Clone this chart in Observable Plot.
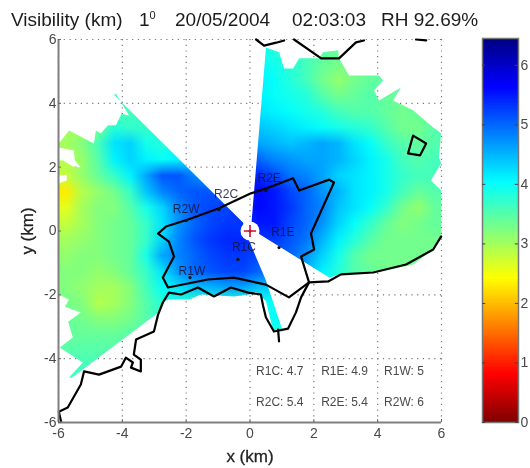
<!DOCTYPE html>
<html><head><meta charset="utf-8">
<script src="https://cdn.jsdelivr.net/npm/d3@7"></script>
<script src="https://cdn.jsdelivr.net/npm/@observablehq/plot@0.6"></script>
<style>
html,body{margin:0;padding:0;background:#fff;width:530px;height:468px;overflow:hidden}
#page{position:relative;width:530px;height:468px;font-family:"Liberation Sans",Arial,sans-serif}
#page svg{position:absolute;top:0;background:transparent;filter:blur(.35px)}
.t{position:absolute;top:9px;font-size:19px;color:#1c1c1c;white-space:pre;line-height:22px;filter:blur(.3px)}
.t sup{font-size:11px;line-height:0;vertical-align:7px}
</style></head><body><div id="page"></div>
<script>
// Visibility (km), rows from y=5.75 down to y=-5.75, columns x=-5.75 .. 5.75, 0.5 km cells
const visibilityRows = [
[3.7,3.7,3.7,3.7,3.7,3.7,3.7,3.7,3.7,3.9,3.9,4.0,4.0,3.8,3.7,3.6,3.5,3.4,3.4,3.4,3.4,3.4,3.4,3.4],
[3.7,3.7,3.7,3.7,3.7,3.7,3.7,3.7,3.7,3.9,3.9,4.0,4.0,3.9,3.8,3.6,3.4,3.3,3.3,3.4,3.4,3.4,3.4,3.4],
[3.7,3.7,3.7,3.7,3.7,3.7,3.7,3.7,3.7,3.9,4.0,4.0,4.1,4.0,3.8,3.6,3.3,3.1,3.3,3.4,3.5,3.5,3.5,3.5],
[3.4,3.4,3.5,3.7,3.8,3.9,3.9,3.9,3.9,4.0,4.0,4.1,4.1,4.0,3.9,3.8,3.5,3.3,3.4,3.5,3.4,3.4,3.4,3.4],
[3.0,3.1,3.3,3.5,3.6,3.8,3.9,3.9,4.0,4.0,4.1,4.2,4.2,4.1,4.0,3.9,3.8,3.6,3.5,3.5,3.4,3.3,3.4,3.4],
[3.0,3.0,3.3,3.8,3.7,3.7,3.9,4.0,4.0,4.1,4.2,4.4,4.4,4.3,4.2,4.1,4.0,3.9,3.8,3.7,3.5,3.3,3.3,3.5],
[3.0,3.2,3.6,4.2,4.3,3.9,3.8,4.0,4.1,4.2,4.4,4.6,4.6,4.5,4.4,4.5,4.6,4.5,4.2,4.0,3.7,3.5,3.4,3.5],
[2.9,3.1,3.5,4.1,4.3,4.1,4.0,4.1,4.3,4.5,4.7,5.0,5.0,4.8,4.7,4.6,4.6,4.5,4.3,4.1,3.9,3.6,3.5,3.6],
[2.8,3.1,3.4,3.7,4.1,4.6,5.1,5.1,4.8,4.6,4.9,5.4,5.4,5.2,4.9,4.8,4.6,4.3,4.2,4.1,3.9,3.7,3.6,3.6],
[2.3,2.9,3.1,3.3,3.7,4.4,4.8,5.0,5.1,5.1,5.2,5.5,5.6,5.5,5.2,5.0,4.7,4.5,4.2,4.1,3.9,3.6,3.4,3.5],
[2.6,3.0,3.2,3.2,3.5,3.9,4.3,4.8,5.1,5.2,5.2,5.4,5.6,5.5,5.3,5.0,4.8,4.4,4.2,4.0,3.7,3.3,3.1,3.4],
[2.8,3.0,3.2,3.3,3.4,3.7,4.2,4.7,5.0,5.2,5.3,5.3,5.5,5.5,5.2,5.0,4.7,4.3,4.0,3.7,3.4,3.2,3.3,3.4],
[3.0,3.1,3.2,3.3,3.4,3.7,4.3,4.8,5.1,5.3,5.4,5.4,5.3,5.3,5.1,4.9,4.5,4.1,3.8,3.5,3.3,3.3,3.3,3.3],
[3.1,3.2,3.2,3.3,3.4,3.9,4.6,4.8,5.0,5.2,5.3,5.3,5.2,5.1,5.0,4.7,4.3,3.9,3.5,3.3,3.3,3.3,3.3,3.3],
[3.2,3.2,3.1,3.2,3.4,3.7,4.2,4.7,5.0,5.1,5.2,5.2,5.0,5.0,4.9,4.5,4.1,3.8,3.5,3.4,3.3,3.3,3.3,3.3],
[3.2,3.1,3.0,3.0,3.2,3.6,4.0,4.2,4.4,4.5,4.6,4.6,4.4,4.3,4.2,4.1,4.0,3.8,3.5,3.4,3.3,3.3,3.3,3.3],
[3.3,3.2,2.9,3.0,3.2,3.5,3.8,3.8,3.7,3.7,3.7,3.7,3.9,4.0,4.1,4.0,4.0,3.8,3.5,3.4,3.3,3.3,3.3,3.3],
[3.4,3.3,3.2,3.2,3.3,3.5,3.7,3.8,3.7,3.7,3.7,3.7,3.9,4.0,4.0,4.0,4.0,3.8,3.5,3.4,3.3,3.3,3.3,3.3],
[3.4,3.4,3.4,3.4,3.5,3.6,3.7,3.7,3.7,3.7,3.7,3.7,3.8,3.8,3.8,3.8,3.8,3.8,3.5,3.4,3.3,3.3,3.3,3.3],
[3.5,3.5,3.5,3.5,3.5,3.6,3.6,3.6,3.6,3.6,3.6,3.6,3.6,3.6,3.6,3.6,3.6,3.6,3.5,3.4,3.3,3.3,3.3,3.3],
[3.6,3.6,3.6,3.6,3.6,3.6,3.6,3.6,3.6,3.6,3.6,3.6,3.6,3.6,3.6,3.6,3.6,3.6,3.5,3.4,3.3,3.3,3.3,3.3],
[3.6,3.6,3.6,3.6,3.6,3.6,3.6,3.6,3.6,3.6,3.6,3.6,3.6,3.6,3.6,3.6,3.6,3.6,3.5,3.4,3.3,3.3,3.3,3.3],
[3.6,3.6,3.6,3.6,3.6,3.6,3.6,3.6,3.6,3.6,3.6,3.6,3.6,3.6,3.6,3.6,3.6,3.6,3.5,3.4,3.3,3.3,3.3,3.3],
[3.6,3.6,3.6,3.6,3.6,3.6,3.6,3.6,3.6,3.6,3.6,3.6,3.6,3.6,3.6,3.6,3.6,3.6,3.5,3.4,3.3,3.3,3.3,3.3]
];
// Radar coverage outline (km)
const coverageWest = [[-0.22,0.27],[-4.26,4.27],[-4.2,4.3],[-3.79,3.62],[-4.04,3.68],[-3.98,3.78],[-4.2,3.31],[-4.45,3.31],[-4.67,3.06],[-4.83,3.15],[-4.89,2.74],[-5.67,3.15],[-5.99,2.74],[-5.99,2.62],[-5.52,2.52],[-5.49,2.21],[-5.3,1.99],[-5.55,2.02],[-5.86,2.21],[-6,2.21],[-6,1.74],[-5.74,1.76],[-5.74,1.58],[-6,1.49],[-6,-1.99],[-5.67,-2.15],[-5.8,-2.37],[-5.3,-2.55],[-5.7,-2.84],[-5.55,-3.34],[-5.96,-3.65],[-5.24,-4.12],[-5.67,-4.59],[-5.58,-4.6],[-2.88,-2.56],[-2.7,-2.21],[-2.55,-2.15],[-1.9,-2.15],[-1.54,-1.99],[-0.5,-2.05],[-0.03,-1.99],[0.19,-1.9],[0.5,-2.2],[0.72,-3.1],[1.03,-3.15],[0.5,-1.55],[-0.03,-0.3]];
const coverageEast = [[0.05,0.3],[0.5,5.75],[0.91,5.6],[1.07,5.09],[1.35,5.09],[1.54,5.41],[2.16,5.41],[2.29,5.6],[2.76,5.66],[2.79,5.41],[3.1,4.87],[4.04,4.87],[4.17,4.72],[3.89,4.4],[4.04,4.09],[4.73,4.5],[4.48,4.09],[5.11,3.78],[5.74,3.24],[5.99,3.06],[5.92,2.3],[5.99,2.12],[5.67,1.58],[5.99,1.27],[5.99,-0.11],[5.74,-0.58],[5.11,-1.05],[3.95,-1.3],[2.85,-1.36],[2.48,-1.46],[0.3,-0.1]];
// Map outlines (km)
const regionOutline = [[-2.88,-0.08],[-2.63,0.14],[-1.94,0.36],[-0.97,0.71],[0.03,1.18],[0.5,1.33],[1.35,1.65],[1.54,1.27],[2.48,1.61],[2.63,1.52],[1.91,-0.08],[2.01,-0.58],[1.6,-0.8],[1.85,-1.61],[1.22,-2.08],[0.5,-1.68],[-0.5,-1.46],[-1.32,-1.52],[-2.57,-1.77],[-2.73,-1.46],[-2.38,-0.8],[-2.54,-0.33],[-2.88,-0.08]];
const coastSouth = [[-5.92,-5.97],[-5.99,-5.66],[-5.71,-5.53],[-5.3,-4.81],[-5.2,-4.4],[-4.73,-4.5],[-4.04,-4.25],[-3.89,-3.97],[-3.67,-4.12],[-3.73,-4.28],[-3.42,-4.4],[-3.42,-4.03],[-3.64,-3.87],[-3.57,-3.4],[-3.01,-3.15],[-2.88,-2.62],[-2.73,-2.24],[-2.54,-1.93],[-2.16,-1.99],[-1.63,-1.77],[-1.13,-2.05],[-0.6,-1.77],[-0.06,-1.93],[0.34,-1.99],[0.41,-2.34],[0.5,-2.71],[0.75,-3.15],[1.19,-3.06],[1.44,-2.55],[1.6,-2.08],[1.85,-1.61],[2.45,-1.58],[2.85,-1.36],[3.86,-1.3],[4.89,-1.05],[5.74,-0.58],[5.99,-0.17]];
const coastSpur = [[0.88,-3.09],[0.91,-3.46]];
const coastTop1 = [[0.19,6],[0.44,5.81],[0.82,5.9],[1.07,5.97]];
const coastTop2 = [[1.38,6],[2.23,5.41],[2.79,5.41],[3.32,5.91],[3.57,5.97]];
const coastTop3 = [[5.2,6],[5.52,5.97]];
const island = [[5.11,2.99],[5.52,2.74],[5.33,2.37],[4.95,2.43],[5.11,2.99]];
// Runway sensors
const sensorNames = ["R2W","R2C","R2E","R1E","R1C","R1W"];
const sensorLabelX = [-2.0,-0.75,0.6,1.03,-0.19,-1.82];
const sensorLabelY = [0.7,1.15,1.65,-0.05,-0.52,-1.27];
const sensorDotX = [-2.0,-0.97,0.5,0.91,-0.38,-1.88];
const sensorDotY = [0.33,0.67,1.27,-0.52,-0.89,-1.46];
const readings = ["R1C: 4.7","R1E: 4.9","R1W: 5","R2C: 5.4","R2E: 5.4","R2W: 6"];
const readingX = [0.19,2.23,4.2,0.19,2.23,4.2];
const readingY = [-4.4,-4.4,-4.4,-5.37,-5.37,-5.37];
const axisTicks = [-6,-4,-2,0,2,4,6];
const barTicks = [0,1,2,3,4,5,6];
const colorStops = [0,0.81,2.42,3.22,4.03,5.64,6.45];
const colorRange = ["#800000","#ff0000","#ffff00","#80ff80","#00ffff","#0000ff","#000080"];
const titleParts = [["Visibility (km)",11],["1<sup>0</sup>",139],["20/05/2004",175],["02:03:03",292],["RH 92.69%",381]];

const page = document.getElementById("page");
for (const [s,l] of titleParts){const d=document.createElement("div");d.className="t";d.style.left=l+"px";d.innerHTML=s;page.append(d);}

const color = {type:"linear",domain:colorStops,range:colorRange,interpolate:"rgb",clamp:true};
const black = {stroke:"#000",strokeWidth:2.2,strokeLinejoin:"round",x:d=>d[0],y:d=>d[1]};
const grey = "#4a4a4a";
const sensors = sensorNames.map((n,i)=>({n,x:sensorLabelX[i],y:sensorLabelY[i],dx:sensorDotX[i],dy:sensorDotY[i]}));
const reads = readings.map((t,i)=>({t,x:readingX[i],y:readingY[i]}));

const plot = Plot.plot({
  width:530,height:468,marginLeft:58,marginRight:89,marginTop:39,marginBottom:46,
  style:{background:"transparent",fontFamily:'"Liberation Sans",Arial,sans-serif'},
  x:{domain:[-6,6]},y:{domain:[-6,6]},color,
  marks:[
    Plot.gridX(axisTicks,{stroke:"#777",strokeOpacity:1,strokeWidth:1.2,strokeDasharray:"1.2 4.5"}),
    Plot.gridY(axisTicks,{stroke:"#777",strokeOpacity:1,strokeWidth:1.2,strokeDasharray:"1.2 4.5"}),
    Plot.raster(visibilityRows.flat(),{width:24,height:24,x1:-6,x2:6,y1:6,y2:-6,fill:d=>d,className:"field"}),
    Plot.dot([[0,0]],{x:d=>d[0],y:d=>d[1],r:9.5,fill:"#fff"}),
    Plot.line(regionOutline,black),
    Plot.line(coastSouth,black),Plot.line(coastSpur,black),
    Plot.line(coastTop1,black),Plot.line(coastTop2,black),Plot.line(coastTop3,black),
    Plot.line(island,black),
    Plot.dot(sensors,{x:"dx",y:"dy",r:1.6,fill:"#111"}),
    Plot.text(sensors,{x:"x",y:"y",text:"n",fontSize:12,fill:"#14143a",fillOpacity:.85}),
    Plot.dot([[0,0]],{x:d=>d[0],y:d=>d[1],r:4,symbol:"plus",stroke:"#c8102e",strokeWidth:1.6}),
    Plot.dot([[0,0]],{x:d=>d[0],y:d=>d[1],r:1.6,fill:"#c8102e"}),
    Plot.text(reads,{x:"x",y:"y",text:"t",textAnchor:"start",fontSize:12,fill:grey}),
    Plot.ruleX([-6],{stroke:"#808080",strokeWidth:2}),
    Plot.ruleY([-6],{stroke:"#808080",strokeWidth:2}),
    Plot.axisX(axisTicks,{anchor:"bottom",tickSize:-3,tickPadding:9,fontSize:14,color:grey,stroke:"#666",label:null,tickFormat:d=>String(d)}),
    Plot.axisY(axisTicks,{anchor:"left",tickSize:-3,tickPadding:5,fontSize:14,color:grey,stroke:"#666",label:null,tickFormat:d=>String(d)}),
    Plot.text(["x (km)"],{x:0,y:-6,dy:34,text:d=>d,fontSize:17,fill:"#222",stroke:"#222",strokeWidth:.3}),
    Plot.text(["y (km)"],{x:-6,y:0,dx:-31,rotate:-90,text:d=>d,fontSize:17,fill:"#222",stroke:"#222",strokeWidth:.3})
  ]
});
plot.style.left="0px";
page.append(plot);

// Clip the field to the radar coverage outlines, positioned through Plot's own scales
const sx = plot.scale("x"), sy = plot.scale("y");
const defs = d3.select(plot).append("defs").append("clipPath").attr("id","coverage");
for (const poly of [coverageWest,coverageEast])
  defs.append("polygon").attr("points",poly.map(([a,b])=>[sx.apply(a),sy.apply(b)].join(",")).join(" "));
plot.querySelector("image").parentNode.setAttribute("clip-path","url(#coverage)");

// Colour bar
const step = 0.04, ramp = d3.range(0,6.45,step);
const bar = Plot.plot({
  width:60,height:468,marginLeft:12,marginRight:12,marginTop:38,marginBottom:46,
  style:{background:"transparent",fontFamily:'"Liberation Sans",Arial,sans-serif'},
  x:{domain:[0,1],axis:null},y:{domain:[0,6.45],axis:null},color,
  marks:[
    Plot.rect(ramp,{x1:0,x2:1,y1:d=>d,y2:d=>Math.min(6.45,d+step*1.5),fill:d=>d+step/2}),
    Plot.frame({stroke:"#777",strokeWidth:1.5}),
    Plot.ruleY(barTicks,{y:d=>d,x1:0,x2:0.09,stroke:"#444"}),
    Plot.ruleY(barTicks,{y:d=>d,x1:0.91,x2:1,stroke:"#444"}),
    Plot.text(barTicks,{y:d=>d,x:1,dx:2,text:d=>String(d),textAnchor:"start",fontSize:14,fill:grey})
  ]
});
bar.style.left="470px";
page.append(bar);
</script></body></html>
